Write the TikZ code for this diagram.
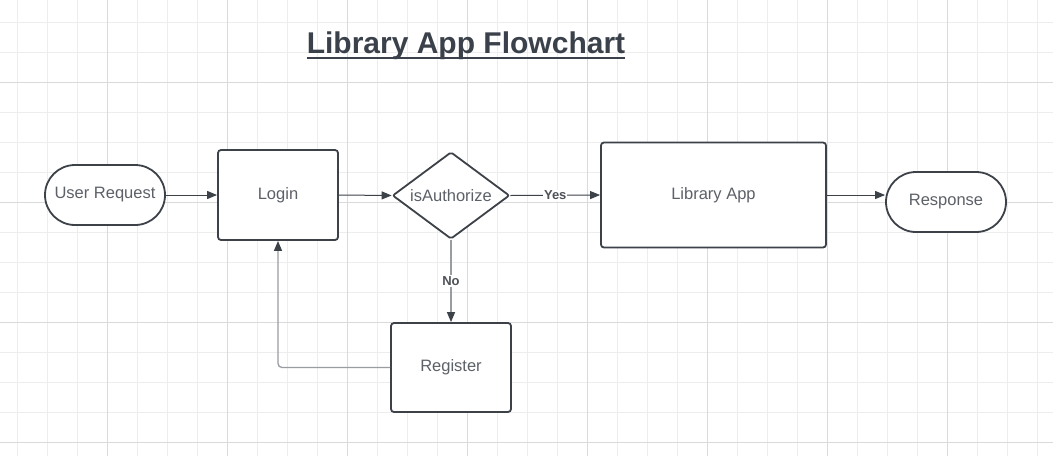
\documentclass[tikz,border=0pt]{standalone}
\usepackage{fontspec}
\setmainfont{Liberation Sans}
\usetikzlibrary{shapes.geometric,arrows.meta}
\definecolor{bordc}{HTML}{3D4148}
\definecolor{txtc}{HTML}{5C6067}
\definecolor{titlec}{HTML}{3B414A}
\definecolor{lightline}{HTML}{999CA1}
\definecolor{gridminor}{HTML}{EDEDED}
\definecolor{gridmajor}{HTML}{DADADA}
\tikzset{
  boxnode/.style={draw=bordc, line width=1.8pt, rounded corners=3pt, fill=white,
    text=txtc, font=\fontsize{16.5}{19}\selectfont, inner sep=0pt},
  stadium/.style={boxnode, rounded corners=30pt, minimum width=120pt, minimum height=60pt},
  decision/.style={boxnode, diamond, aspect=1.345, rounded corners=2pt, minimum width=117pt, minimum height=87pt},
  conn/.style={draw=bordc, line width=1pt, -{Triangle[length=10pt,width=8pt]}},
  connlight/.style={draw=lightline, line width=1.3pt, -{Triangle[length=10pt,width=8pt,color=bordc]}},
  edgelabel/.style={fill=white, text=txtc!85!black, font=\bfseries\fontsize{13}{15}\selectfont, inner sep=1pt},
}
\begin{document}
\begin{tikzpicture}[x=1pt,y=-1pt]
\useasboundingbox (0,0) rectangle (1053,456);
\fill[white] (0,0) rectangle (1053,456);
% grid
\foreach \gx in {17,47,...,1037} \draw[gridminor, line width=1pt] (\gx,0) -- (\gx,456);
\foreach \gy in {22,52,...,442} \draw[gridminor, line width=1pt] (0,\gy) -- (1053,\gy);
\foreach \gx in {107,227,...,947} \draw[gridmajor, line width=1pt] (\gx,0) -- (\gx,456);
\foreach \gy in {82,202,...,442} \draw[gridmajor, line width=1pt] (0,\gy) -- (1053,\gy);
% title
\node[anchor=base, inner sep=0pt, text=titlec, font=\bfseries\fontsize{30}{35}\selectfont] (title) at (466,53) {Library App Flowchart};
\draw[titlec, line width=2pt] ([yshift=-4.5pt]title.base west) -- ([yshift=-4.5pt]title.base east);
% nodes
\node[stadium] (ur) at (105,195) {User Request};
\node[boxnode, minimum width=120pt, minimum height=90pt] (login) at (278,195) {Login};
\node[decision] (dia) at (451,195.5) {isAuthorize};
\node[boxnode, minimum width=225pt, minimum height=105pt] (app) at (713.5,195) {Library App};
\node[stadium, minimum width=120pt] (resp) at (946,202) {Response};
\node[boxnode, minimum width=120pt, minimum height=89pt] (reg) at (451,367.5) {Register};
% connectors
\draw[conn] (ur.east) -- (login.west);
\draw[conn] (login.east) -- (dia.west);
\draw[conn] (dia.east) -- node[edgelabel] (yes) {Yes} (app.west);
\draw[conn] (app.east) -- (resp.west |- app.east);
\draw[connlight] (dia.south) -- node[edgelabel, pos=0.5] (no) {No} (reg.north);
\draw[connlight, rounded corners=4pt] (reg.west) -| (login.south);
\end{tikzpicture}
\end{document}
